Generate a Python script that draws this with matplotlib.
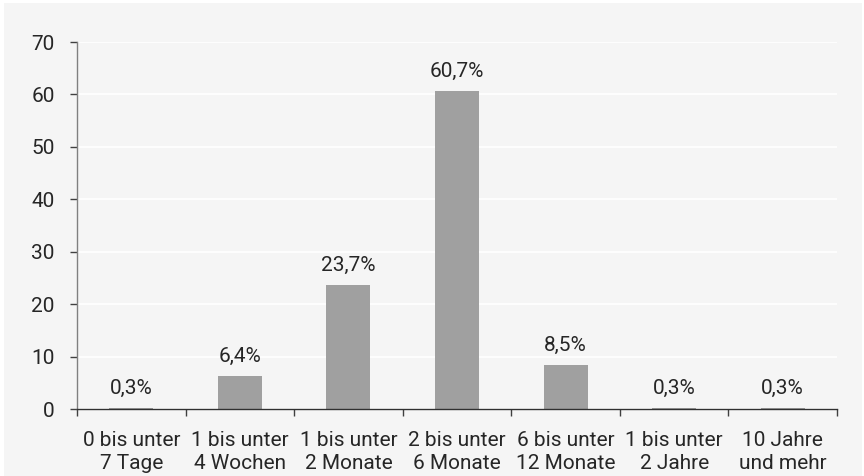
import matplotlib
matplotlib.use("Agg")
import matplotlib.pyplot as plt
from matplotlib.patches import Rectangle

categories = ["0 bis unter\n7 Tage", "1 bis unter\n4 Wochen", "1 bis unter\n2 Monate",
              "2 bis unter\n6 Monate", "6 bis unter\n12 Monate", "1 bis unter\n2 Jahre",
              "10 Jahre\nund mehr"]
values = [0.3, 6.4, 23.7, 60.7, 8.5, 0.3, 0.3]
y_ticks = [0, 10, 20, 30, 40, 50, 60, 70]

plt.rcParams['font.family'] = ['Roboto', 'DejaVu Sans']

W, H = 864, 476
fig = plt.figure(figsize=(W / 100, H / 100), dpi=100, facecolor="white")
# light panel behind the chart
fig.patches.append(Rectangle((4 / W, 0), 1 - 6 / W, 1 - 3 / H, transform=fig.transFigure,
                             facecolor="#f5f5f5", edgecolor="none", zorder=-10))

ax = fig.add_axes([77 / W, 1 - 409.3 / H, (837 - 77) / W, (409.3 - 42) / H])
ax.set_facecolor("none")
ax.set_zorder(5)

text_color = "#262626"
fs = 15
x = list(range(len(categories)))
ax.bar(x, values, width=0.405, color="#a0a0a0", zorder=2)

for xi, v in zip(x, values):
    ax.annotate(f"{v:.1f}%".replace(".", ","), (xi, v), xytext=(0, 7),
                textcoords="offset points", ha="center", va="bottom",
                fontsize=fs, color=text_color)

ax.set_xlim(-0.5, len(categories) - 0.5)
ax.set_ylim(0, 70)
ax.set_yticks(y_ticks)
ax.set_yticklabels([str(t) for t in y_ticks])
ax.yaxis.grid(True, color="white", linewidth=1.2, zorder=1)
ax.set_axisbelow(True)

# category labels centered; ticks at category boundaries
ax.set_xticks(x)
ax.set_xticklabels(categories, fontsize=fs, color=text_color, linespacing=1.25)
ax.tick_params(axis="x", which="major", length=0, pad=15.5)
ax.set_xticks([i - 0.5 for i in range(len(categories) + 1)], minor=True)
ax.tick_params(axis="x", which="minor", length=5, width=1, color="#404040", direction="out")
ax.tick_params(axis="y", length=5, width=1, color="#404040", labelsize=fs,
               labelcolor=text_color, pad=11)

for side in ("top", "right"):
    ax.spines[side].set_visible(False)
ax.spines["left"].set_color("#808080")
ax.spines["bottom"].set_color("#303030")
ax.spines["left"].set_linewidth(1)
ax.spines["bottom"].set_linewidth(1)

fig.savefig("out.png", dpi=100, facecolor=fig.get_facecolor())
